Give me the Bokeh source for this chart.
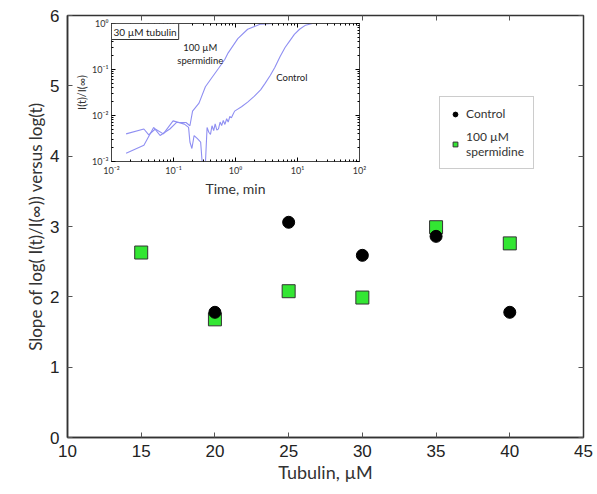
from bokeh.plotting import figure
from bokeh.models import (Legend, LegendItem, Label, LinearAxis, LogAxis, FixedTicker,
                          CustomJSTickFormatter, Title)
from bokeh.layouts import column
from bokeh.embed import file_html
from bokeh.resources import INLINE

# ---------------- main data ----------------
tubulin_control = [20, 25, 30, 35, 40]
slope_control = [1.78, 3.06, 2.59, 2.86, 1.78]
tubulin_sperm = [15, 20, 25, 30, 35, 40]
slope_sperm = [2.63, 1.68, 2.08, 1.99, 2.99, 2.76]
x_ticks = [10, 15, 20, 25, 30, 35, 40, 45]
y_ticks = [0, 1, 2, 3, 4, 5, 6]

# ---------------- inset data (30 uM tubulin) ----------------
t_sperm = [0.0172, 0.0333, 0.0478, 0.0608, 0.0873, 0.111, 0.159, 0.184, 0.203,
           0.258, 0.327, 0.420, 0.531, 0.675, 0.762, 1.09, 1.57, 2.54, 4.10, 20.0]
i_sperm = [0.00151, 0.00226, 0.00551, 0.00367, 0.00509, 0.00703, 0.00703, 0.00598,
           0.01245, 0.0186, 0.0421, 0.068, 0.105, 0.167, 0.23, 0.47, 0.75, 0.97, 1.0, 1.0]
t_ctrl = [0.0172, 0.0333, 0.0399, 0.0508, 0.0686, 0.0984, 0.150, 0.175, 0.184, 0.198,
          0.215, 0.243, 0.274, 0.291, 0.310, 0.327, 0.348, 0.371, 0.395, 0.418, 0.445,
          0.470, 0.500, 0.531, 0.565, 0.598, 0.635, 0.675, 0.720, 0.762, 0.810, 0.859,
          0.910, 0.968, 1.25, 1.57, 2.0, 2.54, 3.0, 3.65, 4.3, 5.22, 6.3, 7.50, 8.9,
          10.8, 13.5, 17.4, 25.0]
i_ctrl = [0.00399, 0.00509, 0.00380, 0.00509, 0.00399, 0.00764, 0.00650, 0.00551,
          0.00265, 0.00192, 0.00367, 0.00313, 0.00265, 0.0009, 0.0009, 0.0009, 0.00551,
          0.00432, 0.0039, 0.00598, 0.00469, 0.0066, 0.0048, 0.00513, 0.0072, 0.00603,
          0.0078, 0.0064, 0.0085, 0.0072, 0.0095, 0.0089, 0.0105, 0.01245, 0.0155,
          0.0195, 0.026, 0.036, 0.050, 0.075, 0.11, 0.19, 0.30, 0.42, 0.58, 0.75,
          0.92, 1.0, 1.0]
inset_x_ticks = [0.01, 0.1, 1, 10, 100]
inset_y_ticks = [0.001, 0.01, 0.1, 1]

TICK_FONT = "Liberation Sans"
LABEL_FONT = "Lato"
GREEN = "#33e633"

p = figure(frame_width=516, frame_height=422, x_range=(10, 45), y_range=(0, 6),
           output_backend="svg", toolbar_location=None,
           min_border_left=67, min_border_right=12, min_border_top=15, min_border_bottom=55,
           background_fill_color="white", border_fill_color="white")
p.xgrid.visible = False
p.ygrid.visible = False
p.outline_line_color = "#333333"
p.outline_line_width = 1.5

for ax in (p.xaxis[0], p.yaxis[0]):
    ax.major_tick_in = 5
    ax.major_tick_out = 0
    ax.minor_tick_in = 0
    ax.minor_tick_out = 0
    ax.axis_line_color = "#333333"
    ax.axis_line_width = 1.5
    ax.major_tick_line_color = "#555555"
    ax.major_label_text_font = TICK_FONT
    ax.major_label_text_font_size = "17px"
    ax.major_label_text_color = "#222222"
p.xaxis[0].ticker = FixedTicker(ticks=x_ticks)
p.yaxis[0].ticker = FixedTicker(ticks=y_ticks)
p.xaxis[0].major_label_standoff = 7
p.yaxis[0].major_label_standoff = 8
p.xaxis[0].axis_label = "Tubulin, µM"
p.xaxis[0].axis_label_text_font = LABEL_FONT
p.xaxis[0].axis_label_text_font_size = "18px"
p.xaxis[0].axis_label_text_font_style = "normal"
p.xaxis[0].axis_label_text_color = "#333333"
p.xaxis[0].axis_label_standoff = 1

for side, ticks in (("right", y_ticks), ("above", x_ticks)):
    a = LinearAxis(ticker=FixedTicker(ticks=ticks), major_label_text_color=None,
                   major_tick_in=5, major_tick_out=0, minor_tick_in=0, minor_tick_out=0,
                   axis_line_color="#333333", major_tick_line_color="#555555",
                   major_label_standoff=0)
    p.add_layout(a, side)

p.add_layout(Title(text="Slope of log( I(t)/I(∞)) versus log(t)", align="center",
                   offset=23, standoff=4, text_font=LABEL_FONT, text_font_size="17px",
                   text_font_style="normal", text_color="#333333"), "left")

r_sperm = p.scatter(tubulin_sperm, slope_sperm, marker="square", size=13,
                    fill_color=GREEN, line_color="#333333", line_width=1)
r_ctrl = p.scatter(tubulin_control, slope_control, marker="circle", size=12,
                   fill_color="black", line_color="black")

legend = Legend(items=[LegendItem(label="Control", renderers=[r_ctrl]),
                       LegendItem(label="100 µM\nspermidine", renderers=[r_sperm])],
                location=(372, 268), border_line_color="#999999", border_line_width=1,
                label_text_font=LABEL_FONT, label_text_font_size="12px",
                label_text_color="#333333", glyph_width=12, glyph_height=12,
                padding=9, spacing=8, margin=0, background_fill_alpha=1)
p.add_layout(legend)

# ---------------- inset ----------------
inset = figure(width=337, height=190, x_axis_type="log", y_axis_type="log",
               x_range=(0.01, 100), y_range=(0.001, 1),
               output_backend="svg", toolbar_location=None,
               min_border_left=62, min_border_right=22, min_border_top=14, min_border_bottom=35,
               background_fill_alpha=0, border_fill_alpha=0,
               styles={"position": "absolute", "left": "44px", "top": "9px"})
inset.xgrid.visible = False
inset.ygrid.visible = False
inset.outline_line_color = "#444444"
inset.outline_line_width = 1

sup_code = """
const sup = {'-':'\u207b','0':'\u2070','1':'\u00b9','2':'\u00b2','3':'\u00b3'};
const e = Math.round(Math.log10(tick));
return '10' + String(e).split('').map(c => sup[c]).join('');
"""
minor_x = [m * d for d in inset_x_ticks[:-1] for m in range(2, 10)]
minor_y = [m * d for d in inset_y_ticks[:-1] for m in range(2, 10)]
for ax, ticks, minor in ((inset.xaxis[0], inset_x_ticks, minor_x),
                         (inset.yaxis[0], inset_y_ticks, minor_y)):
    ax.ticker = FixedTicker(ticks=ticks, minor_ticks=minor)
    ax.formatter = CustomJSTickFormatter(code=sup_code)
    ax.major_tick_in = 4
    ax.major_tick_out = 0
    ax.minor_tick_in = 2
    ax.minor_tick_out = 0
    ax.axis_line_color = "#444444"
    ax.major_label_text_font = LABEL_FONT
    ax.major_label_text_font_size = "9px"
    ax.major_label_text_color = "#333333"
    ax.major_label_standoff = 3
inset.xaxis[0].axis_label = "Time, min"
inset.xaxis[0].axis_label_text_font = LABEL_FONT
inset.xaxis[0].axis_label_text_font_size = "14px"
inset.xaxis[0].axis_label_text_font_style = "normal"
inset.xaxis[0].axis_label_text_color = "#333333"
inset.xaxis[0].axis_label_standoff = 1
inset.yaxis[0].axis_label = "I(t)/I(∞)"
inset.yaxis[0].axis_label_text_font = LABEL_FONT
inset.yaxis[0].axis_label_text_font_size = "11px"
inset.yaxis[0].axis_label_text_font_style = "normal"
inset.yaxis[0].axis_label_text_color = "#333333"
inset.yaxis[0].axis_label_standoff = 1

for side, ticks, minor in (("right", inset_y_ticks, minor_y), ("above", inset_x_ticks, minor_x)):
    a = LogAxis(ticker=FixedTicker(ticks=ticks, minor_ticks=minor),
                major_label_text_color=None, major_tick_in=4, major_tick_out=0,
                minor_tick_in=2, minor_tick_out=0, axis_line_color="#444444",
                major_label_standoff=0)
    inset.add_layout(a, side)

LINE = "#8f8ff2"
inset.line(t_ctrl, i_ctrl, line_color=LINE, line_width=1.1)
inset.line(t_sperm, i_sperm, line_color=LINE, line_width=1.1)

inset.add_layout(Label(x=0.01, y=1.0, text="30 µM tubulin", text_align="left",
                       text_baseline="top", text_font=LABEL_FONT, text_font_size="10px",
                       text_color="#222222", border_line_color="#333333",
                       background_fill_color="white", padding=2))
inset.add_layout(Label(x=0.27, y=0.22, text="100 µM\nspermidine", text_align="center",
                       text_baseline="middle", text_font=LABEL_FONT, text_font_size="9.5px",
                       text_color="#222222"))
inset.add_layout(Label(x=8.1, y=0.0686, text="Control", text_align="center",
                       text_baseline="middle", text_font=LABEL_FONT, text_font_size="9.5px",
                       text_color="#222222"))

layout = column(p, inset, styles={"position": "relative"})
open("out.html", "w").write(file_html(layout, INLINE))
